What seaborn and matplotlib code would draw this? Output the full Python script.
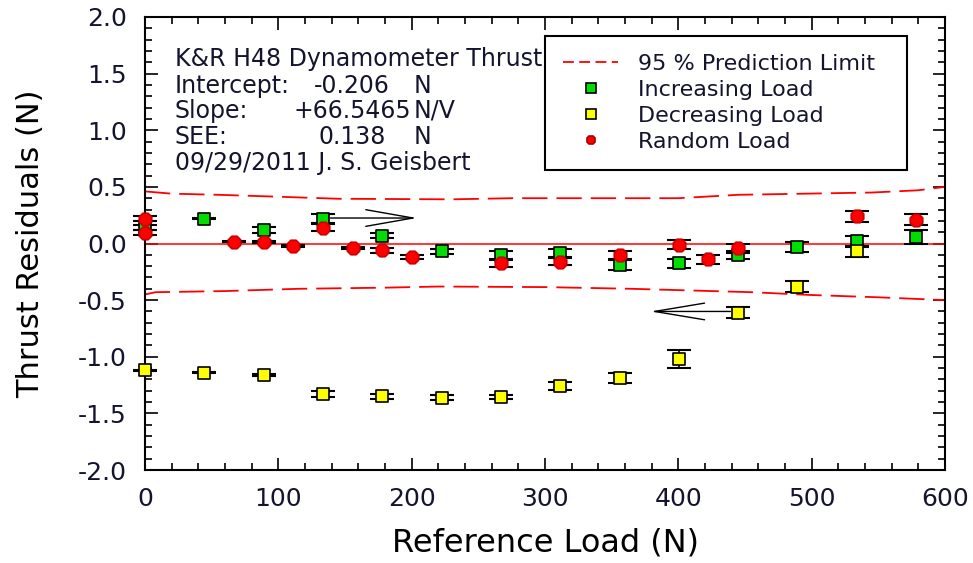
import pandas as pd
import matplotlib
matplotlib.use("Agg")
import matplotlib.pyplot as plt
from matplotlib.lines import Line2D
from matplotlib.ticker import MultipleLocator, FormatStrFormatter
import seaborn as sns

# reference loads in N (10 lbf steps)
inc_load = [0, 44.5, 89.0, 133.4, 177.9, 222.4, 266.9, 311.4, 355.9, 400.3, 444.8, 489.3, 533.8, 578.3]
inc_resid = [0.14, 0.22, 0.12, 0.22, 0.07, -0.07, -0.10, -0.08, -0.19, -0.175, -0.10, -0.03, 0.02, 0.06]
inc_err = [0.025, 0.005, 0.03, 0.04, 0.02, 0.02, 0.035, 0.035, 0.04, 0.04, 0.035, 0.045, 0.05, 0.06]

dec_load = [0, 44.5, 89.0, 133.4, 177.9, 222.4, 266.9, 311.4, 355.9, 400.3, 444.8, 489.3, 533.8]
dec_resid = [-1.12, -1.14, -1.16, -1.33, -1.35, -1.36, -1.355, -1.26, -1.19, -1.02, -0.61, -0.38, -0.07]
dec_err = [0.005, 0.005, 0.01, 0.025, 0.02, 0.025, 0.02, 0.035, 0.045, 0.08, 0.045, 0.045, 0.045]

rnd_load = [0, 0, 66.7, 89.0, 111.2, 133.4, 155.7, 177.9, 200.2, 266.9, 311.4, 355.9,
            400.3, 422.6, 444.8, 533.8, 578.3]
rnd_resid = [0.22, 0.095, 0.016, 0.016, -0.02, 0.14, -0.04, -0.06, -0.12, -0.175, -0.16, -0.10,
             -0.01, -0.14, -0.04, 0.24, 0.21]
rnd_err = [0.02, 0.02, 0.005, 0.01, 0.01, 0.03, 0.01, 0.02, 0.02, 0.03, 0.03, 0.035,
           0.04, 0.04, 0.04, 0.05, 0.05]

# 95 % prediction limits
upper_x = [0, 20, 55, 95, 145, 230, 275, 400, 445, 545, 580, 600]
upper_y = [0.46, 0.44, 0.43, 0.415, 0.395, 0.39, 0.40, 0.40, 0.43, 0.45, 0.47, 0.50]
lower_x = [0, 8, 60, 115, 180, 220, 300, 365, 410, 455, 500, 550, 600]
lower_y = [-0.45, -0.43, -0.42, -0.40, -0.39, -0.38, -0.385, -0.40, -0.415, -0.43, -0.455, -0.475, -0.50]

info_lines = [
    ("K&R H48 Dynamometer Thrust", "", ""),
    ("Intercept:", "-0.206", "N"),
    ("Slope:", "+66.5465", "N/V"),
    ("SEE:", "0.138", "N"),
    ("09/29/2011 J. S. Geisbert", "", ""),
]

series = {
    "Increasing Load": (inc_load, inc_resid, inc_err, "s", "#00dd00", "black"),
    "Decreasing Load": (dec_load, dec_resid, dec_err, "s", "#ffff00", "black"),
    "Random Load": (rnd_load, rnd_resid, rnd_err, "8", "#ff0000", "#cc0000"),
}

sns.set_style("ticks")
plt.rcParams["font.family"] = ["DejaVu Sans"]
plt.rcParams["axes.unicode_minus"] = False

W, H = 973, 563
fig = plt.figure(figsize=(W / 100, H / 100), dpi=100)
ax = fig.add_axes([145 / W, 1 - 470 / H, 800 / W, 453 / H])

txt_col = "#14142e"

# prediction limits and zero line
sns.lineplot(x=upper_x, y=upper_y, ax=ax, color="red", lw=1.3, linestyle=(0, (14, 5)), zorder=2)
sns.lineplot(x=lower_x, y=lower_y, ax=ax, color="red", lw=1.3, linestyle=(0, (14, 5)), zorder=2)
ax.axhline(0, color="red", lw=1.1, zorder=2)

for name, (xs, ys, es, mk, fc, ec) in series.items():
    ax.errorbar(xs, ys, yerr=es, fmt="none", ecolor="black", elinewidth=1.2,
                capsize=8.5, capthick=1.5, zorder=3, clip_on=False)
    df = pd.DataFrame({"load": xs, "resid": ys})
    sns.scatterplot(data=df, x="load", y="resid", ax=ax, marker=mk, color=fc,
                    edgecolor=ec, linewidth=1.2, s=75 if mk == "s" else 95, zorder=4,
                    clip_on=False)

# arrows showing load direction
ax.annotate("", xy=(204, 0.225), xytext=(139, 0.225),
            arrowprops=dict(arrowstyle="->,head_length=3.4,head_width=0.6", lw=1.0,
                            color="black", mutation_scale=10, shrinkA=0, shrinkB=0), zorder=5)
ax.annotate("", xy=(379, -0.60), xytext=(439, -0.60),
            arrowprops=dict(arrowstyle="->,head_length=3.6,head_width=0.6", lw=1.0,
                            color="black", mutation_scale=10, shrinkA=0, shrinkB=0), zorder=5)

ax.set_xlim(0, 600)
ax.set_ylim(-2.0, 2.0)
ax.xaxis.set_major_locator(MultipleLocator(100))
ax.xaxis.set_minor_locator(MultipleLocator(20))
ax.yaxis.set_major_locator(MultipleLocator(0.5))
ax.yaxis.set_minor_locator(MultipleLocator(0.1))
ax.yaxis.set_major_formatter(FormatStrFormatter("%.1f"))
ax.tick_params(which="both", direction="in", top=True, right=True, width=1.2, colors="black")
ax.tick_params(which="major", length=9)
ax.tick_params(which="minor", length=5)
ax.tick_params(axis="x", which="major", pad=12, labelsize=18, labelcolor=txt_col)
ax.tick_params(axis="y", which="major", pad=13, labelsize=18, labelcolor=txt_col)
for sp in ax.spines.values():
    sp.set_linewidth(1.5)
    sp.set_color("black")

ax.set_xlabel("Reference Load (N)", fontsize=23, color="black")
ax.set_ylabel("Thrust Residuals (N)", fontsize=22, color="black")
ax.xaxis.label.set_va("center")
ax.yaxis.label.set_va("center")
ax.xaxis.set_label_coords(0.5, (470 - 543) / 453, transform=ax.transAxes)
ax.yaxis.set_label_coords((31 - 145) / 800, 0.5, transform=ax.transAxes)

# info block in the upper left
row_y = [59, 86, 111, 137, 163]
for (lab, val, unit), py in zip(info_lines, row_y):
    yy = (470 - py) / 453
    ax.text((175 - 145) / 800, yy, lab, transform=ax.transAxes, fontsize=17,
            color=txt_col, va="center", ha="left")
    if val:
        ax.text((352 - 145) / 800, yy, val, transform=ax.transAxes, fontsize=17,
                color=txt_col, va="center", ha="center")
        ax.text((414 - 145) / 800, yy, unit, transform=ax.transAxes, fontsize=17,
                color=txt_col, va="center", ha="left")

handles = [Line2D([], [], color="red", lw=1.3, linestyle=(0, (6, 3)))]
labels = ["95 % Prediction Limit"]
for name, (xs, ys, es, mk, fc, ec) in series.items():
    handles.append(Line2D([], [], ls="none", marker=mk, markerfacecolor=fc,
                          markeredgecolor="black" if mk == "s" else "#aa0000",
                          markersize=7, markeredgewidth=1.2))
    labels.append(name)

leg = ax.legend(handles, labels, loc="upper left", mode="expand",
                bbox_to_anchor=(545 / W, 1 - 42 / H, (907 - 545) / W, 0.01),
                bbox_transform=fig.transFigure, borderaxespad=0, fontsize=16,
                handlelength=2.5, handletextpad=0.9, borderpad=0.8, labelspacing=0.27,
                frameon=True, fancybox=False, edgecolor="black", framealpha=1)
leg.get_frame().set_linewidth(1.5)
for t in leg.get_texts():
    t.set_color(txt_col)

fig.savefig("out.png", dpi=100)
